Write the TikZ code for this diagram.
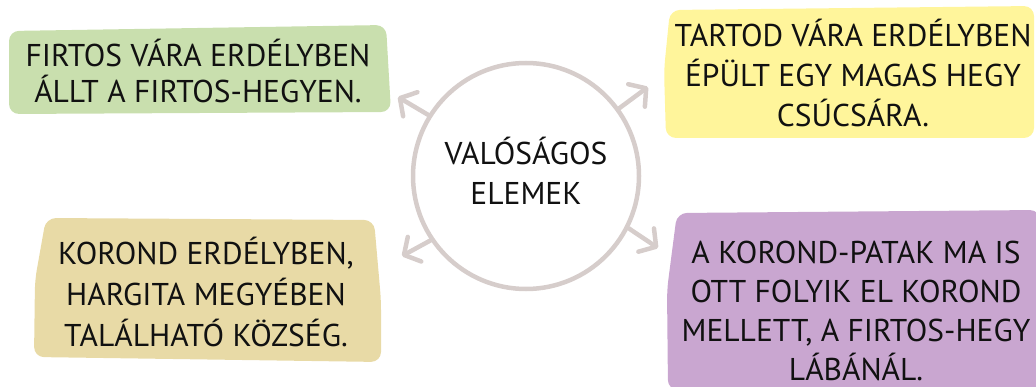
\documentclass[tikz,border=0pt]{standalone}
\usepackage{fontspec}
\setmainfont{PT Sans}
\usetikzlibrary{arrows.meta}
\definecolor{cgreen}{RGB}{201,223,174}
\definecolor{cyellow}{RGB}{255,245,155}
\definecolor{cpurple}{RGB}{201,166,208}
\definecolor{ctan}{RGB}{232,218,166}
\definecolor{cring}{RGB}{214,205,203}
\definecolor{ctext}{RGB}{17,17,17}
\tikzset{
  blob/.style={rounded corners=10pt},
  lbl/.style={align=center, text=ctext, inner sep=0pt, anchor=base, font=\fontsize{31.5}{39}\selectfont},
  ring/.style={circle, draw=cring, line width=4.5pt, minimum size=226pt, inner sep=0pt},
  arr/.style={draw=cring, line width=4.5pt, line cap=round, -{Straight Barb[length=12pt,width=28pt,round]}}
}
\begin{document}
\begin{tikzpicture}[x=1pt,y=-1pt]
\useasboundingbox (0,0) rectangle (1036,387);
% shapes
\fill[cgreen, blob] (9,31) -- (386,25) -- (391,112) -- (9,114) -- cycle;
\fill[cyellow, blob] (670,10) -- (1034,6) -- (1034,138) -- (666,138) -- (664,70) -- cycle;
\fill[cpurple, blob] (677,213) -- (1040,210) -- (1040,390) -- (668,390) -- (667,290) -- cycle;
\fill[ctan, blob] (46,218) -- (374,220) -- (381,300) -- (381,362) -- (34,357) -- (35,280) -- cycle;
% nodes
\node[ring] (c) at (526,176) {};
\node[lbl, font=\fontsize{31.5}{40}\selectfont] (ct) at (526,205) {VALÓSÁGOS\\ELEMEK};
\node[lbl, font=\fontsize{31.5}{36.5}\selectfont] (g) at (198,103) {FIRTOS VÁRA ERDÉLYBEN\\ÁLLT A FIRTOS-HEGYEN.};
\node[lbl, font=\fontsize{31.5}{40}\selectfont] (y) at (853,127) {TARTOD VÁRA ERDÉLYBEN\\ÉPÜLT EGY MAGAS HEGY\\CSÚCSÁRA.};
\node[lbl, font=\fontsize{31.5}{41}\selectfont] (t) at (206,346) {KOROND ERDÉLYBEN,\\HARGITA MEGYÉBEN\\TALÁLHATÓ KÖZSÉG.};
\node[lbl] (p) at (856,380) {A KOROND-PATAK MA IS\\OTT FOLYIK EL KOROND\\MELLETT, A FIRTOS-HEGY\\LÁBÁNÁL.};
% arrow tips
\coordinate (tg) at (398,97);
\coordinate (ty) at (648,87);
\coordinate (tt) at (402,256);
\coordinate (tp) at (658,248);
\draw[arr] (c.148) -- (tg);
\draw[arr] (c.36) -- (ty);
\draw[arr] (c.214) -- (tt);
\draw[arr] (c.-27) -- (tp);
\end{tikzpicture}
\end{document}
